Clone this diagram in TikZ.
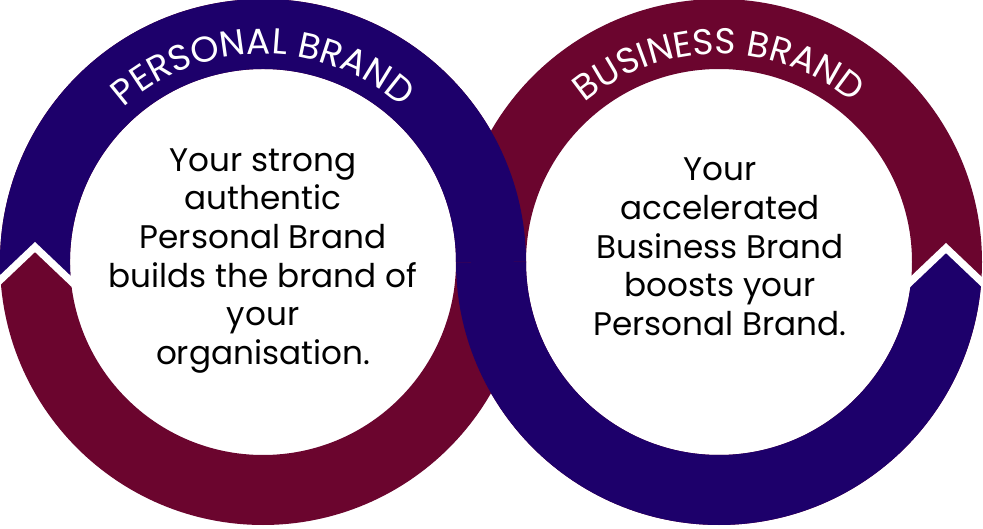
\documentclass[tikz,border=0pt]{standalone}
\usepackage{fontspec}
\setmainfont{Poppins}
\usetikzlibrary{decorations.text}
\definecolor{bblue}{HTML}{1D006B}
\definecolor{bmar}{HTML}{6B052E}
\begin{document}
\begin{tikzpicture}[x=0.75pt,y=0.75pt,
  band/.style={line width=52.5pt},
  body/.style={align=center,font=\fontsize{24.5}{29}\selectfont,text=black},
  arclbl/.style={decorate,decoration={text along path,text align=center,
     text={|\fontsize{27}{27}\selectfont\color{white}|#1}}}]
\useasboundingbox (0,0) rectangle (983,529);
\coordinate (L) at (263,267);
\coordinate (R) at (719,267);
% maroon full rings
\draw[bmar,band] (L) circle[radius=228];
\draw[bmar,band] (R) circle[radius=228];
% left blue
\begin{scope}
\clip (-20,228)--(35,282)--(90,227)--(600,227)--(600,560)--(-20,560)--cycle;
\draw[bblue,band] (L) ++(190:228) arc[start angle=190,end angle=0,radius=228];
\end{scope}
% right blue
\begin{scope}
\clip (400,280)--(860,280)--(860,195)--(946,281)--(1000,227)--(1000,-20)--(400,-20)--cycle;
\draw[bblue,band] (R) ++(180:228) arc[start angle=180,end angle=380,radius=228];
\end{scope}
% notches
\coordinate (n1a) at (-5,244); \coordinate (n1b) at (35,282); \coordinate (n1c) at (75,244);
\coordinate (n2a) at (906,243); \coordinate (n2b) at (946,281); \coordinate (n2c) at (986,243);
\draw[white,line width=5.5pt] (n1a)--(n1b)--(n1c);
\draw[white,line width=5.5pt] (n2a)--(n2b)--(n2c);
% arc labels
\path[arclbl={PERSONAL BRAND}] (L) ++(170:208) arc[start angle=170,end angle=10,radius=208];
\path[arclbl={BUSINESS BRAND}] (R) ++(170:208) arc[start angle=170,end angle=10,radius=208];
% body text
\node[body] (tl) at (263,268) {Your strong\\authentic\\Personal Brand\\builds the brand of\\your\\organisation.};
\node[body] (tr) at (720,282) {Your\\accelerated\\Business Brand\\boosts your\\Personal Brand.};
\end{tikzpicture}
\end{document}
